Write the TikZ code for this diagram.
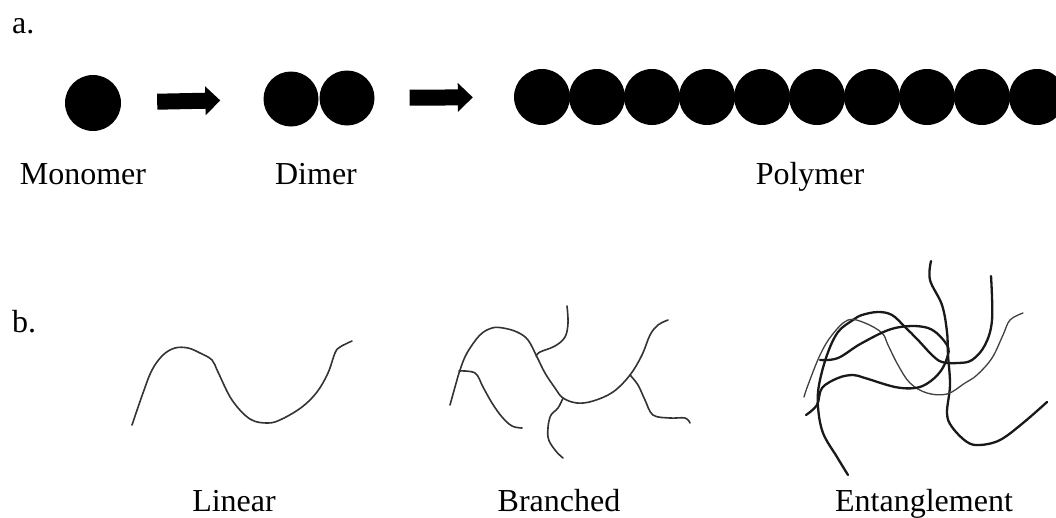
\documentclass[tikz,border=0pt]{standalone}
\usepackage{fontspec}
\setmainfont{Liberation Serif}
\usetikzlibrary{positioning, arrows.meta}

\begin{document}
\begin{tikzpicture}[
  x=1pt, y=-1pt,
  every node/.style={font=\fontsize{32}{37}\selectfont, text=black},
  bead/.style={
    circle,
    fill=black,
    inner sep=0pt,
    minimum size=56pt,
  },
  caption/.style={
    anchor=base,
    inner sep=0pt,
  },
  panel/.style={
    anchor=base west,
    inner sep=0pt,
  },
  blockarrow/.style={
    -{Triangle[length=15pt, width=28pt]},
    line width=16pt,
    draw=black,
  },
  chain/.style={
    line width=1.6pt,
    draw=black!80,
    line cap=round,
    line join=round,
  },
  thickchain/.style={chain, line width=2.3pt, draw=black!90},
  thinchain/.style={chain, line width=1.3pt, draw=black!75},
]
  \useasboundingbox (0,0) rectangle (1056,517);

  % a. monomer -> dimer -> polymer
  \node[panel] (tagA) at (12,33) {a.};
  \node[bead] (monomer) at (93,103) {};
  \node[bead, minimum size=55pt] (dimerA) at (291,99) {};
  \node[bead, minimum size=55pt] (dimerB) at (347,98) {};
  \foreach \i in {0,...,9}
    \node[bead, minimum size=56pt] (poly\i) at ({542+55*\i},97) {};

  \draw[blockarrow, shorten <=36pt, shorten >=43pt] (monomer) -- (dimerA);
  \draw[blockarrow, shorten <=35pt, shorten >=41pt] (dimerB) -- (poly0);

  \node[caption] (monolabel) at (83,184) {Monomer};
  \node[caption] (dimerlabel) at (316,184) {Dimer};
  \node[caption] (polylabel) at (810,184) {Polymer};

  % b. chain architectures
  \node[panel] (tagB) at (12,332) {b.};

  % linear
  \draw[chain] plot[smooth, tension=0.6] coordinates {
    (132,425) (143,393) (152,370) (163,355) (175,348) (188,348) (200,353)
    (212,360) (218,372) (232,400) (250,419) (268,423) (282,419) (302,407)
    (317,392) (328,373) (335,353) (340,347) (352,341)};

  % branched
  \draw[chain] plot[smooth, tension=0.6] coordinates {
    (450,405) (455,387) (460,370) (467,353) (480,335) (492,328) (503,328)
    (517,332) (528,340) (537,357) (545,373) (555,388) (563,398) (577,403)
    (593,401) (613,392) (630,375) (642,355) (650,335) (658,325) (668,320)};
  \draw[chain] plot[smooth, tension=0.6] coordinates {
    (459,371) (475,373) (483,387) (492,403) (502,417) (512,426) (522,428)};
  \draw[chain] plot[smooth, tension=0.6] coordinates {
    (536,356) (540,352) (555,346) (565,337) (568,323) (567,306)};
  \draw[chain] plot[smooth, tension=0.6] coordinates {
    (563,398) (558,408) (550,417) (548,437) (555,450) (563,458)};
  \draw[chain] plot[smooth, tension=0.6] coordinates {
    (630,375) (638,385) (645,400) (653,415) (670,418) (685,418) (690,423)};

  % entanglement
  \draw[thickchain] plot[smooth, tension=0.6] coordinates {
    (931,261) (930,280) (942,305) (947,332) (948,355) (950,385) (947,413)
    (952,427) (967,442) (980,445) (1000,440) (1023,423) (1047,402)};
  \draw[thickchain] plot[smooth, tension=0.6] coordinates {
    (991,276) (992,320) (985,345) (972,360) (958,363) (942,362) (932,355)
    (918,340) (905,327) (892,315) (878,312) (862,315) (853,320) (838,332)
    (827,355) (819,385) (818,407) (823,433) (837,457) (848,475)};
  \draw[thinchain] plot[smooth, tension=0.6] coordinates {
    (804,397) (808,385) (820,355) (832,335) (848,320) (865,323) (882,333)
    (888,345) (898,365) (910,383) (927,393) (947,394) (965,383) (977,375)
    (992,358) (1003,335) (1010,320) (1023,313)};
  \draw[thickchain] plot[smooth, tension=0.6] coordinates {
    (820,360) (838,358) (862,343) (895,328) (928,328) (947,345) (947,358)
    (940,372) (928,383) (915,388) (895,387) (865,378) (853,375) (838,378)
    (822,388) (817,405) (806,415)};

  \node[caption] (linlabel) at (234,511) {Linear};
  \node[caption] (brlabel) at (559,511) {Branched};
  \node[caption] (entlabel) at (924,511) {Entanglement};
\end{tikzpicture}
\end{document}
